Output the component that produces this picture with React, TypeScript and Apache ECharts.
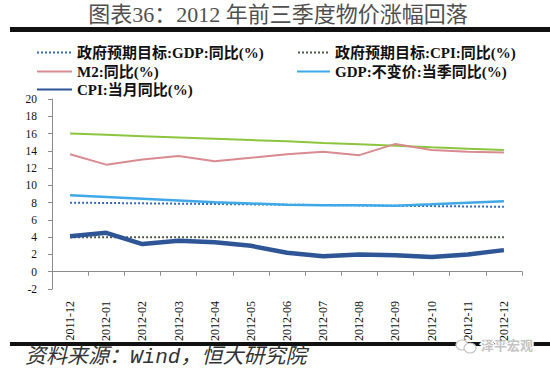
import React, { useEffect, useRef } from "react";
import * as echarts from "echarts";

const categories = [
  "2011-12", "2012-01", "2012-02", "2012-03", "2012-04", "2012-05", "2012-06",
  "2012-07", "2012-08", "2012-09", "2012-10", "2012-11", "2012-12",
];
const gdpTarget = [8.0, 7.96, 7.92, 7.88, 7.84, 7.8, 7.76, 7.72, 7.68, 7.64, 7.6, 7.56, 7.52];
const cpiTarget = [4.0, 4.0, 4.0, 4.0, 4.0, 4.0, 4.0, 4.0, 4.0, 4.0, 4.0, 4.0, 4.0];
const m2 = [13.6, 12.4, 13.0, 13.4, 12.8, 13.2, 13.6, 13.9, 13.5, 14.8, 14.1, 13.9, 13.8];
const gdp = [8.85, 8.65, 8.45, 8.25, 8.05, 7.9, 7.75, 7.7, 7.7, 7.65, 7.8, 8.0, 8.15];
const cpi = [4.1, 4.5, 3.2, 3.6, 3.4, 3.0, 2.2, 1.8, 2.0, 1.9, 1.7, 2.0, 2.5];
const m2Target = [16.0, 15.85, 15.7, 15.55, 15.4, 15.25, 15.1, 14.9, 14.75, 14.6, 14.4, 14.25, 14.1];
const yTicks = { min: -2, max: 20, interval: 2 };

const names = {
  gdpT: "政府预期目标:GDP:同比(%)",
  cpiT: "政府预期目标:CPI:同比(%)",
  m2: "M2:同比(%)",
  gdp: "GDP:不变价:当季同比(%)",
  cpi: "CPI:当月同比(%)",
  m2T: "政府预期目标:M2:同比(%)",
};

const legendText = {
  fontFamily: "Liberation Serif, Noto Sans CJK SC",
  fontWeight: "bold",
  fontSize: 15,
  color: "#111",
};

function mkLegend(name: string, left: number, top: number, w: number) {
  return {
    data: [name],
    left,
    top,
    padding: 0,
    itemWidth: w,
    itemHeight: 16,
    itemGap: 0,
    textStyle: legendText,
    itemStyle: { opacity: 0, color: "transparent", borderColor: "transparent", borderWidth: 0 },
    selectedMode: false,
  };
}

export default function App() {
  const ref = useRef<HTMLDivElement>(null);
  useEffect(() => {
    if (!ref.current) return;
    const chart = echarts.init(ref.current, undefined, { renderer: "svg" });
    const serif = "Liberation Serif";
    chart.setOption({
      animation: false,
      backgroundColor: "#fff",
      grid: { left: 52, right: 28, top: 99, bottom: 84, containLabel: false },
      legend: [
        mkLegend(names.gdpT, 36, 45, 35),
        mkLegend(names.cpiT, 297, 45, 32),
        mkLegend(names.m2, 36, 64, 35),
        mkLegend(names.gdp, 296, 64, 33),
        mkLegend(names.cpi, 36, 82, 35),
      ],
      xAxis: {
        type: "category",
        data: categories,
        boundaryGap: true,
        axisLine: { onZero: true, lineStyle: { color: "#8c8c8c", width: 1 } },
        axisTick: { show: true, length: 4, lineStyle: { color: "#8c8c8c" } },
        axisLabel: {
          rotate: 90,
          margin: 12,
          fontSize: 12,
          fontFamily: serif,
          color: "#111",
          interval: 0,
        },
        splitLine: { show: false },
      },
      yAxis: {
        type: "value",
        min: yTicks.min,
        max: yTicks.max,
        interval: yTicks.interval,
        axisLine: { show: true, lineStyle: { color: "#8c8c8c", width: 1 } },
        axisTick: { show: true, length: 4, lineStyle: { color: "#8c8c8c" } },
        axisLabel: { fontSize: 11.5, fontFamily: serif, color: "#111", margin: 15 },
        splitLine: { show: false },
      },
      series: [
        {
          name: names.m2T, type: "line", data: m2Target, symbol: "none",
          lineStyle: { color: "#8cc63f", width: 2 }, itemStyle: { color: "#8cc63f" }, z: 2,
        },
        {
          name: names.m2, type: "line", data: m2, symbol: "none",
          lineStyle: { color: "#d98b91", width: 2 }, itemStyle: { color: "#d98b91" }, z: 3,
        },
        {
          name: names.gdpT, type: "line", data: gdpTarget, symbol: "none",
          lineStyle: { color: "#2f6eb5", width: 2, type: [2, 2] }, itemStyle: { color: "#2f6eb5" }, z: 3,
        },
        {
          name: names.gdp, type: "line", data: gdp, symbol: "none",
          lineStyle: { color: "#3fa9e8", width: 2.5 }, itemStyle: { color: "#3fa9e8" }, z: 4,
        },
        {
          name: names.cpiT, type: "line", data: cpiTarget, symbol: "none",
          lineStyle: { color: "#4d5946", width: 2, type: [2, 2] }, itemStyle: { color: "#4d5946" }, z: 3,
        },
        {
          name: names.cpi, type: "line", data: cpi, symbol: "none",
          lineStyle: { color: "#2e5596", width: 4.5 }, itemStyle: { color: "#2e5596" }, z: 5,
        },
      ],
      graphic: [
        {
          type: "text", x: 278, y: 3,
          style: {
            text: "图表36：2012 年前三季度物价涨幅回落",
            font: "normal 22px Liberation Serif, Noto Sans CJK SC",
            fill: "#505050",
            align: "center",
          },
        },
        { type: "rect", shape: { x: 10, y: 27, width: 540, height: 5 }, style: { fill: "#111" } },
        { type: "rect", shape: { x: 10, y: 342, width: 540, height: 4 }, style: { fill: "#111" } },
        {
          type: "text", x: 25, y: 347,
          style: {
            text: "资料来源：Wind，恒大研究院",
            font: "italic 21px Liberation Mono, Noto Sans CJK SC",
            fill: "#333",
          },
        },
        {
          type: "group", x: 462, y: 345,
          children: [
            { type: "ellipse", shape: { cx: 0, cy: 0, rx: 6, ry: 5 }, style: { fill: "#fff", stroke: "#c4c4c4", lineWidth: 1.2 } },
            { type: "ellipse", shape: { cx: 8, cy: 3, rx: 6, ry: 5 }, style: { fill: "#fff", stroke: "#c4c4c4", lineWidth: 1.2 } },
          ],
        },
        {
          type: "text", x: 481, y: 338,
          style: {
            text: "泽平宏观",
            font: "bold 13px Noto Sans CJK SC",
            fill: "#c4c4c4",
            stroke: "#fff",
            lineWidth: 3,
          },
        },
      ],
    });
    return () => chart.dispose();
  }, []);
  return (
    <div
      ref={ref}
      style={{ position: "fixed", left: 0, top: 0, width: 550, height: 373 }}
    />
  );
}
